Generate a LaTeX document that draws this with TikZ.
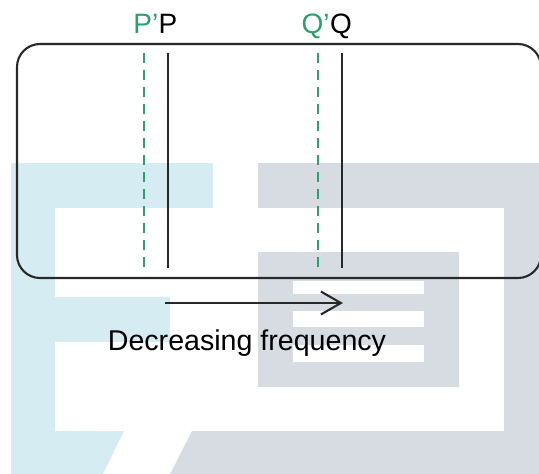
\documentclass[tikz,border=0pt]{standalone}
\usepackage{fontspec}
\setmainfont{Liberation Sans}
\usetikzlibrary{arrows.meta, positioning}
\definecolor{shiftc}{RGB}{42,160,108}
\definecolor{linec}{RGB}{40,40,40}
\definecolor{markblue}{RGB}{214,236,243}
\definecolor{markgrey}{RGB}{214,220,225}

\begin{document}
\begin{tikzpicture}[x=1pt,y=-1pt,
    line/.style={linec,line width=2.1pt},
    shifted/.style={shiftc,line width=2pt,dash pattern=on 10pt off 7pt},
    lab/.style={inner sep=0pt,font=\fontsize{28}{30}\selectfont}]
			\useasboundingbox (0,0) rectangle (539,474);
			% background mark, blue part
			\fill[markblue] (11,163) rectangle (213,208);
			\fill[markblue] (11,208) rectangle (55,474);
			\fill[markblue] (55,297) rectangle (170,342);
			\fill[markblue] (55,431) -- (124,431) -- (103,474) -- (55,474) -- cycle;
			% background mark, grey part
			\fill[markgrey] (258,163) rectangle (539,208);
			\fill[markgrey] (504,208) rectangle (539,474);
			\fill[markgrey] (258,252) rectangle (459,387);
			\fill[white] (293,281) rectangle (424,294);
			\fill[white] (293,311) rectangle (424,327);
			\fill[white] (293,345) rectangle (424,362);
			\fill[markgrey] (192,431) -- (504,431) -- (504,474) -- (170,474) -- cycle;
			% frame
			\draw[line,rounded corners=23pt] (17,44) rectangle (541,278);
			% line ends
			\coordinate (ptop) at (168,53);
			\coordinate (pbot) at (168,268);
			\coordinate (pstop) at (144,53);
			\coordinate (psbot) at (144,268);
			\coordinate (qtop) at (342,53);
			\coordinate (qbot) at (342,268);
			\coordinate (qstop) at (318,53);
			\coordinate (qsbot) at (318,268);
			\draw[line] (ptop) -- (pbot);
			\draw[line] (qtop) -- (qbot);
			\draw[shifted] (pstop) -- (psbot);
			\draw[shifted] (qstop) -- (qsbot);
			% labels
			\node[lab,anchor=base] (P) at (168,33) {P};
			\node[lab,shiftc,anchor=base east] (Ps) at (P.base west) {P’};
			\node[lab,anchor=base] (Q) at (341,33) {Q};
			\node[lab,shiftc,anchor=base east] (Qs) at (Q.base west) {Q’};
			% arrow
			\coordinate (arrs) at (165,303);
			\coordinate (arre) at (343,303);
			\draw[line,-{Straight Barb[length=20pt,width=23pt,line width=2.1pt]}] (arrs) -- (arre);
			\node[lab,anchor=base,font=\fontsize{28.6}{30}\selectfont] (freq) at (247,350) {Decreasing frequency};
		\end{tikzpicture}
\end{document}
